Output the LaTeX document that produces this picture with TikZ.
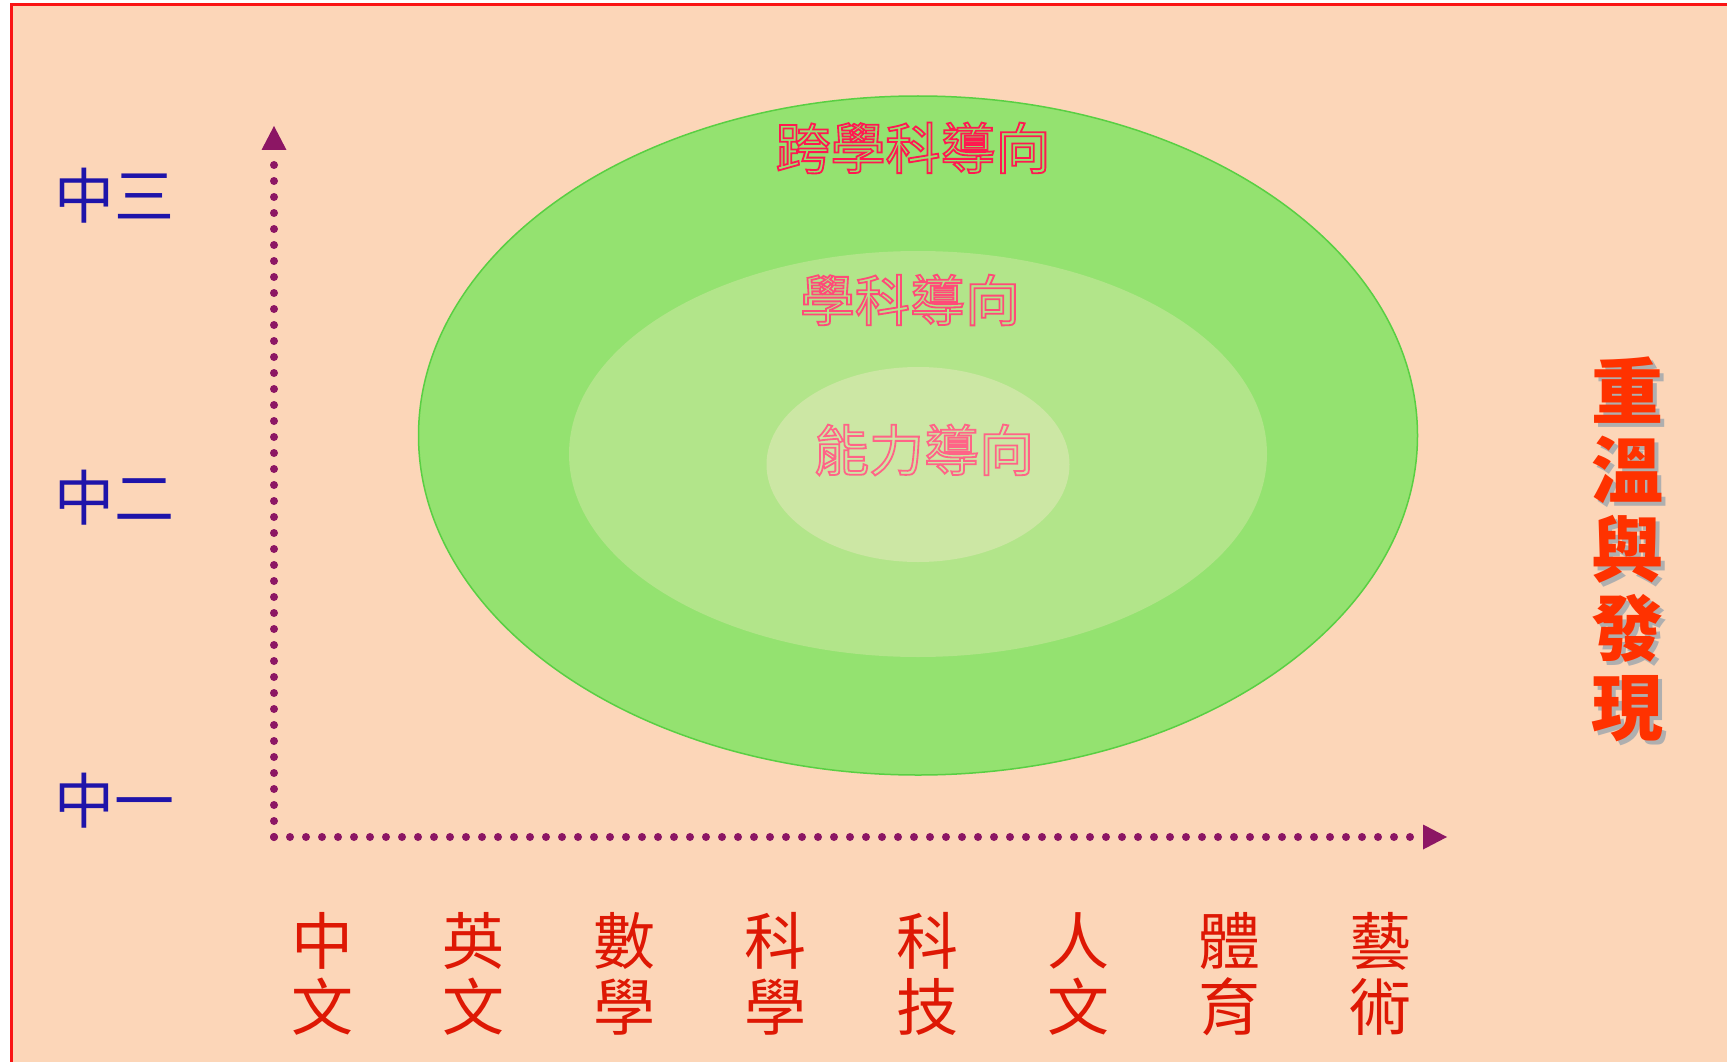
\documentclass[tikz,border=0pt]{standalone}
\usepackage{fontspec}
\usetikzlibrary{arrows.meta}
\newfontfamily\cjk{Noto Sans CJK TC}
\newcommand\outlinetext[1]{\special{pdf:literal direct 1 Tr 1.8 w}#1\special{pdf:literal direct 0 Tr}}
\definecolor{bgpeach}{RGB}{252,214,184}
\definecolor{framered}{RGB}{250,20,20}
\definecolor{outergreen}{RGB}{148,226,112}
\definecolor{midgreen}{RGB}{178,229,138}
\definecolor{innergreen}{RGB}{204,231,164}
\definecolor{axispurple}{RGB}{140,22,100}
\definecolor{gradeblue}{RGB}{30,20,170}
\definecolor{subjred}{RGB}{222,24,4}
\definecolor{titlered}{RGB}{255,50,0}
\definecolor{shadowgray}{RGB}{175,175,175}
\definecolor{pinkA}{RGB}{255,25,80}
\definecolor{pinkB}{RGB}{255,75,120}
\definecolor{pinkC}{RGB}{255,100,135}
\tikzset{
  axisline/.style={draw=axispurple, line width=8pt, line cap=round,
    dash pattern=on 0pt off 16pt, -{Triangle[length=24pt,width=25pt,fill=axispurple,line width=0pt]}},
  grade/.style={text=gradeblue, font=\cjk\fontsize{60}{60}\selectfont, inner sep=0pt},
  subject/.style={text=subjred, font=\cjk\fontsize{62}{66}\selectfont, align=center, inner sep=0pt},
  orient/.style={font=\cjk\fontsize{55}{55}\selectfont, inner sep=0pt},
  vtitle/.style={font=\cjk\bfseries\fontsize{72}{79}\selectfont, align=center, inner sep=0pt}
}
\begin{document}
\begin{tikzpicture}[x=1pt,y=-1pt]
\useasboundingbox (0,0) rectangle (1727,1062);
% background and frame
\fill[white] (0,0) rectangle (1727,1062);
\fill[bgpeach] (11,4.5) rectangle (1727,1062);
\draw[framered, line width=3pt] (11,1062) -- (11,4.5) -- (1727,4.5);
% ellipses
\fill[outergreen] (918,435.5) ellipse [x radius=499.5, y radius=339.5];
\draw[green!70!black!40!outergreen, line width=1.5pt] (918,435.5) ellipse [x radius=499.5, y radius=339.5];
\fill[midgreen] (918,454) ellipse [x radius=349, y radius=203];
\fill[innergreen] (918,464.5) ellipse [x radius=151.5, y radius=97.5];
% orientation labels
\node[orient, text=pinkA] (cross) at (913,148) {\outlinetext{跨學科導向}};
\node[orient, text=pinkB] (subj) at (910,300) {\outlinetext{學科導向}};
\node[orient, text=pinkC] (abil) at (924,450) {\outlinetext{能力導向}};
% axes
\coordinate (O) at (274,837);
\coordinate (ytip) at (274,126);
\coordinate (xtip) at (1447,837);
\draw[axisline] (O) -- (ytip);
\draw[axisline] (O) -- (xtip);
% grade labels
\node[grade] (g3) at (114,196) {中三};
\node[grade] (g2) at (114,498) {中二};
\node[grade] (g1) at (114,801) {中一};
% subject labels
\node[subject] (s1) at (322.5,974) {中\\文};
\node[subject] (s2) at (473.6,974) {英\\文};
\node[subject] (s3) at (624.7,974) {數\\學};
\node[subject] (s4) at (775.8,974) {科\\學};
\node[subject] (s5) at (927.0,974) {科\\技};
\node[subject] (s6) at (1078.2,974) {人\\文};
\node[subject] (s7) at (1229.4,974) {體\\育};
\node[subject] (s8) at (1380.6,974) {藝\\術};
% vertical title with shadow
\node[vtitle, text=shadowgray] (titleshadow) at (1631,553.5) {重\\溫\\與\\發\\現};
\node[vtitle, text=titlered] (title) at (1627,549.5) {重\\溫\\與\\發\\現};
\end{tikzpicture}
\end{document}
